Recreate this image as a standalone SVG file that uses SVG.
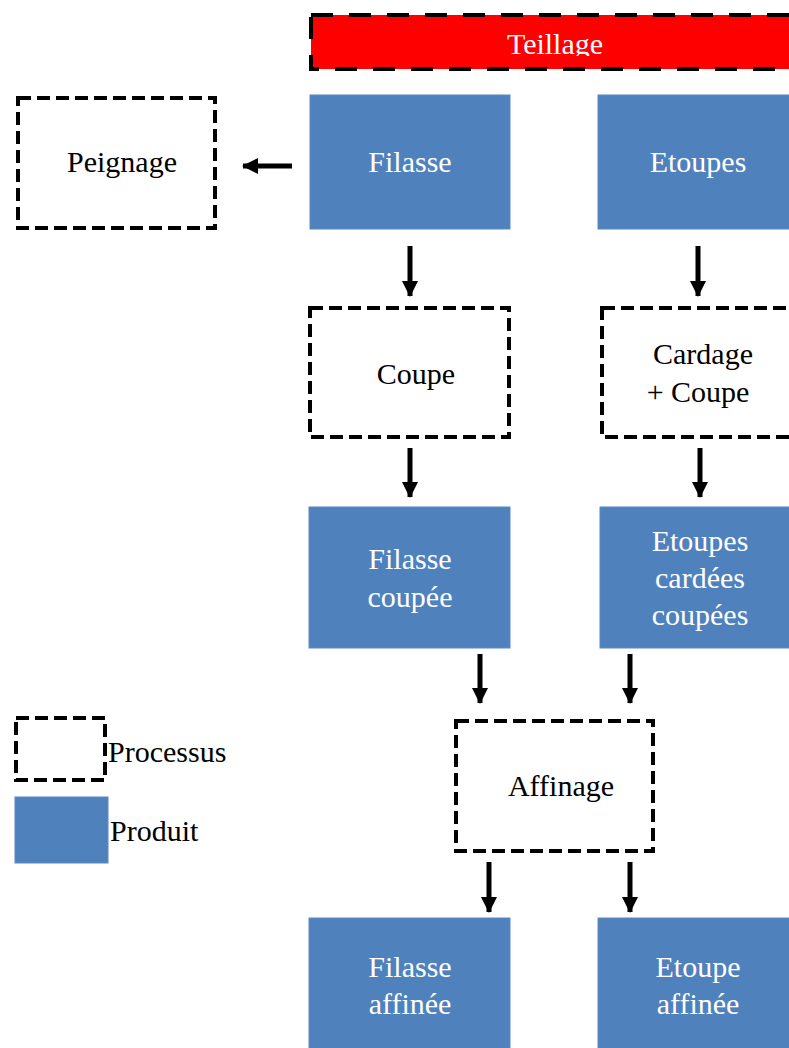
<svg xmlns="http://www.w3.org/2000/svg" width="789" height="1048" viewBox="0 0 789 1048" font-family="'Liberation Serif', 'DejaVu Serif', serif">
<style>
.prod{fill:#4F81BD;stroke:#5A8AC6;stroke-width:1}
.proc{fill:#fff;stroke:#000;stroke-width:4;stroke-dasharray:13 6}
text{font-family:'Liberation Serif','DejaVu Serif',serif;font-size:30px;text-anchor:middle}
.w{fill:#fff}
.k{fill:#000}
.conn line{stroke:#000;stroke-width:5}
</style>
<defs>
<marker id="ah" markerUnits="userSpaceOnUse" markerWidth="16" markerHeight="16" refX="15" refY="8" orient="auto" viewBox="0 0 16 16">
<path d="M0,0 L16,8 L0,16 Z" fill="#000"/>
</marker>
<clipPath id="tclip"><rect x="300" y="0" width="489" height="56"/></clipPath>
</defs>
<g id="teillage">
<rect x="311" y="15" width="490" height="54" fill="#FF0000" stroke="#000" stroke-width="4" stroke-dasharray="22 16"/>
<text class="w" x="555" y="54" clip-path="url(#tclip)">Teillage</text>
</g>
<g id="filasse">
<rect class="prod" x="310" y="95" width="200" height="134"/>
<text class="w" x="410" y="172">Filasse</text>
</g>
<g id="etoupes">
<rect class="prod" x="598" y="95" width="200" height="134"/>
<text class="w" x="698" y="172">Etoupes</text>
</g>
<g id="peignage">
<rect class="proc" x="18" y="98" width="197" height="130"/>
<text class="k" x="122" y="172">Peignage</text>
</g>
<g id="coupe">
<rect class="proc" x="310" y="308" width="199" height="129"/>
<text class="k" x="416" y="384">Coupe</text>
</g>
<g id="cardage">
<rect class="proc" x="602" y="308" width="200" height="129"/>
<text class="k" x="703" y="364">Cardage</text>
<text class="k" x="698" y="402">+ Coupe</text>
</g>
<g id="filasse-coupee">
<rect class="prod" x="309" y="507" width="201" height="141"/>
<text class="w" x="410" y="569">Filasse</text>
<text class="w" x="410" y="607">coupée</text>
</g>
<g id="etoupes-cardees">
<rect class="prod" x="600" y="507" width="200" height="141"/>
<text class="w" x="700" y="551">Etoupes</text>
<text class="w" x="700" y="588">cardées</text>
<text class="w" x="700" y="625">coupées</text>
</g>
<g id="affinage">
<rect class="proc" x="456" y="721" width="197" height="130"/>
<text class="k" x="561" y="796">Affinage</text>
</g>
<g id="filasse-affinee">
<rect class="prod" x="309" y="918" width="201" height="140"/>
<text class="w" x="410" y="977">Filasse</text>
<text class="w" x="410" y="1014">affinée</text>
</g>
<g id="etoupe-affinee">
<rect class="prod" x="598" y="918" width="200" height="140"/>
<text class="w" x="698" y="977">Etoupe</text>
<text class="w" x="698" y="1014">affinée</text>
</g>
<g id="legend">
<rect class="proc" x="16" y="718" width="89" height="62"/>
<text class="k" x="108" y="762" style="text-anchor:start">Processus</text>
<rect class="prod" x="15" y="797" width="93" height="66"/>
<text class="k" x="110" y="841" style="text-anchor:start">Produit</text>
</g>
<g class="conn" id="connectors">
<line x1="292" y1="166" x2="243" y2="166" marker-end="url(#ah)"/>
<line x1="410" y1="246" x2="410" y2="296" marker-end="url(#ah)"/>
<line x1="698" y1="246" x2="698" y2="296" marker-end="url(#ah)"/>
<line x1="410" y1="448" x2="410" y2="497" marker-end="url(#ah)"/>
<line x1="700" y1="448" x2="700" y2="497" marker-end="url(#ah)"/>
<line x1="480" y1="654" x2="480" y2="703" marker-end="url(#ah)"/>
<line x1="630" y1="654" x2="630" y2="703" marker-end="url(#ah)"/>
<line x1="489" y1="862" x2="489" y2="912" marker-end="url(#ah)"/>
<line x1="630" y1="862" x2="630" y2="912" marker-end="url(#ah)"/>
</g>
</svg>
